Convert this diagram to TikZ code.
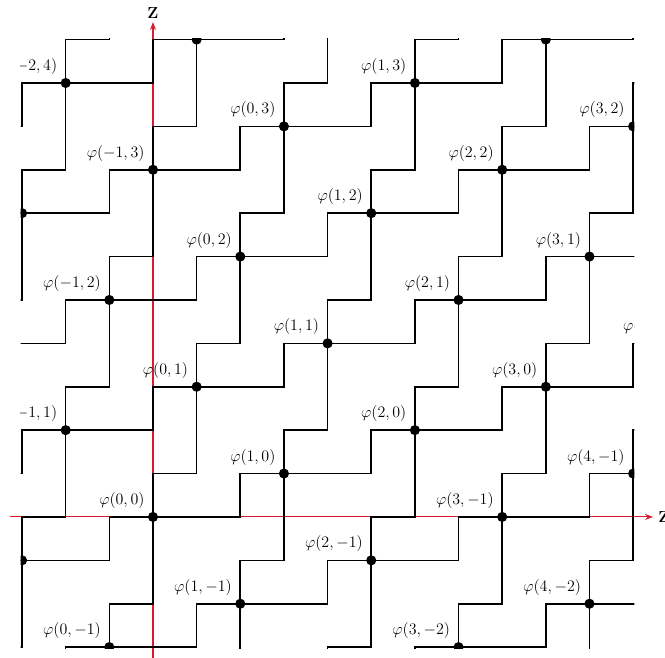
\documentclass[tikz,border=0pt]{standalone}
\usetikzlibrary{arrows.meta}
\definecolor{axisred}{RGB}{214,28,48}
\begin{document}
\begin{tikzpicture}[x=32.74pt,y=32.55pt,
  stair/.style={line width=1.2pt,line join=miter,black},
  axisline/.style={draw=axisred,line width=0.8pt,-{Stealth[length=6pt,width=4.5pt]}},
  dotst/.style={circle,fill=black,inner sep=0pt,minimum size=7.6pt},
  lbl/.style={font=\large,anchor=south east,inner sep=0pt},
  axlbl/.style={font=\large,inner sep=0pt}]
\useasboundingbox (-3.505,-3.249) rectangle (11.730,11.912);
% lattice points phi(i,j) = (3i+j, i+3j)
\foreach \i in {-6,...,6}{\foreach \j in {-6,...,6}{
  \pgfmathtruncatemacro\px{3*\i+\j}
  \pgfmathtruncatemacro\py{\i+3*\j}
  \coordinate (p\i_\j) at (\px,\py);
}}
% axes
\coordinate (xs) at (-3.276,0);
\coordinate (xe) at (11.455,0);
\coordinate (ys) at (0,-3.30);
\coordinate (ye) at (0,11.405);
\draw[axisline] (xs) -- (xe);
\draw[axisline] (ys) -- (ye);
\node[axlbl,anchor=west] (zx) at (11.57,0) {$\mathbf{Z}$};
\node[axlbl] (zy) at (0,11.62) {$\mathbf{Z}$};
\begin{scope}
\clip (-3.03,-3.03) rectangle (11.03,11.03);
\foreach \i in {-5,...,5}{\foreach \j in {-5,...,5}{
  \pgfmathtruncatemacro\ii{\i+1}
  \pgfmathtruncatemacro\jj{\j+1}
  \draw[stair] (p\i_\j) -- ++(2,0) -- ++(0,1) -- (p\ii_\j);
  \draw[stair] (p\i_\j) -- ++(0,1) -- ++(1,0) -- (p\i_\jj);
}}
\foreach \i in {-5,...,5}{\foreach \j in {-5,...,5}{
  \pgfmathtruncatemacro\px{3*\i+\j}
  \pgfmathtruncatemacro\py{\i+3*\j}
  \ifnum\px>-4 \ifnum\px<12 \ifnum\py>-4 \ifnum\py<12
    \node[dotst] (d\i_\j) at (p\i_\j) {};
  \fi\fi\fi\fi
  \ifnum\px>-3 \ifnum\px<13 \ifnum\py>-4 \ifnum\py<11
    \node[lbl] (l\i_\j) at (\px-0.19,\py+0.19) {$\varphi(\i,\j)$};
  \fi\fi\fi\fi
}}
\end{scope}
\end{tikzpicture}
\end{document}
